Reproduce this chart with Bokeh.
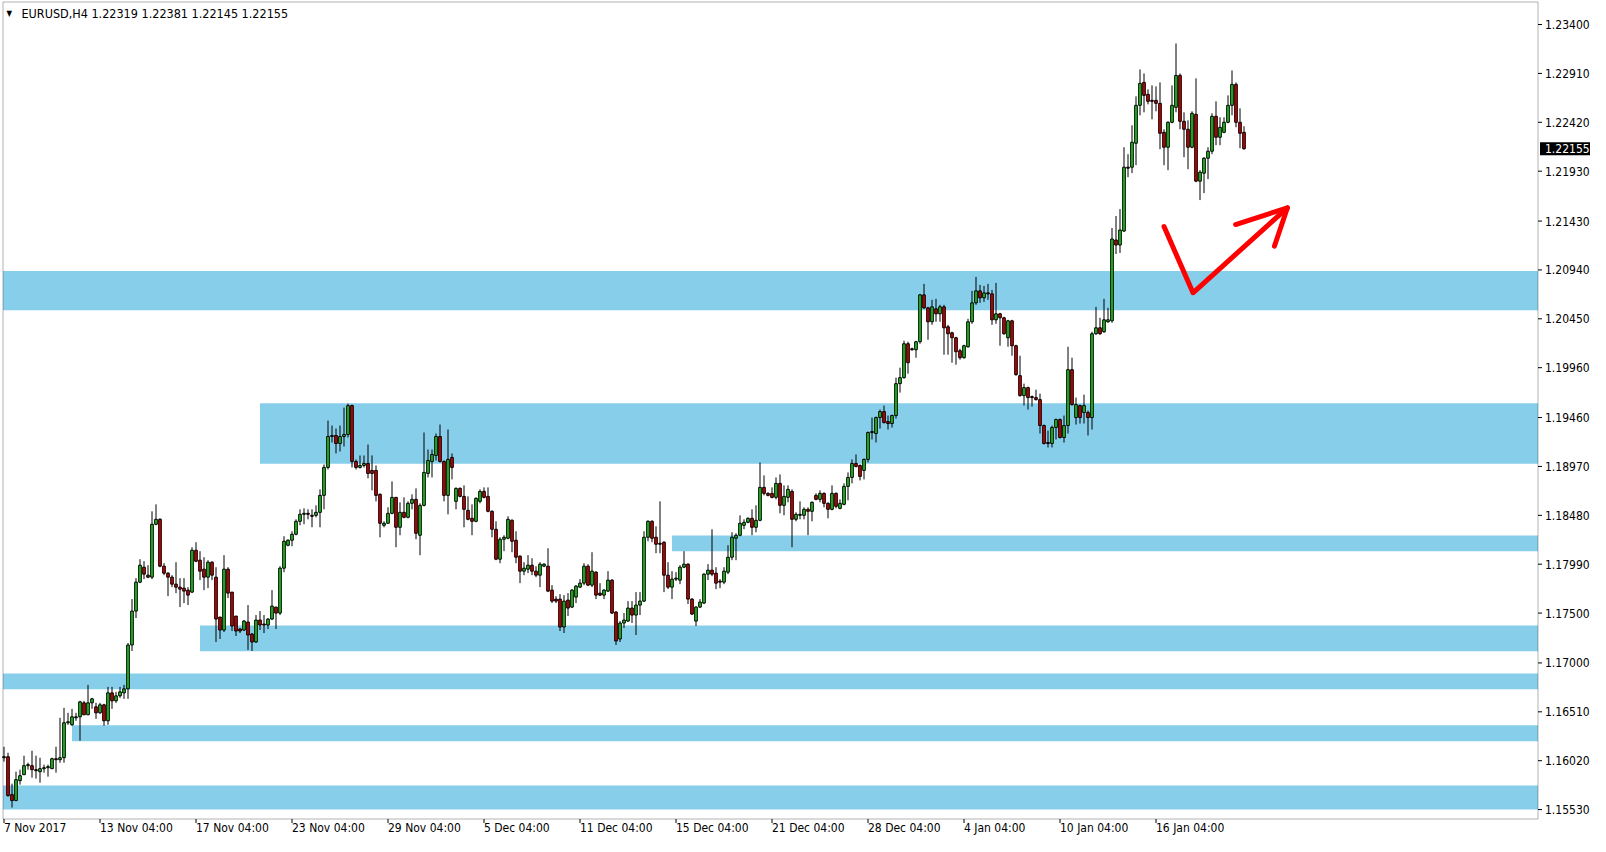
from bokeh.plotting import figure
from bokeh.models import Range1d, Label, ColumnDataSource, BoxAnnotation
from bokeh.core.properties import value
from bokeh.embed import file_html
from bokeh.resources import INLINE

symbol = "EURUSD,H4"

opens = [
    1.1606, 1.1606, 1.1568, 1.1562, 1.1582, 1.1588, 1.1597, 1.1597, 1.1593, 1.1591,
    1.1594, 1.1595, 1.1594, 1.1604, 1.1603, 1.1605, 1.1640, 1.1638, 1.1645, 1.1646,
    1.1660, 1.1648, 1.1660, 1.1656, 1.1650, 1.1658, 1.1642, 1.1670, 1.1662, 1.1667,
    1.1670, 1.1674, 1.1718, 1.1752, 1.1781, 1.1796, 1.1788, 1.1786, 1.1839, 1.1844,
    1.1797, 1.1790, 1.1786, 1.1779, 1.1776, 1.1775, 1.1773, 1.1771, 1.1813, 1.1803,
    1.1794, 1.1786, 1.1801, 1.1786, 1.1746, 1.1733, 1.1794, 1.1771, 1.1747, 1.1734,
    1.1733, 1.1741, 1.1729, 1.1721, 1.1743, 1.1739, 1.1738, 1.1744, 1.1756, 1.1750,
    1.1795, 1.1818, 1.1823, 1.1829, 1.1842, 1.1849, 1.1850, 1.1848, 1.1848, 1.1851,
    1.1868, 1.1896, 1.1927, 1.1928, 1.1920, 1.1927, 1.1929, 1.1958, 1.1902, 1.1896,
    1.1898, 1.1900, 1.1893, 1.1893, 1.1869, 1.1838, 1.1840, 1.1850, 1.1866, 1.1836,
    1.1851, 1.1846, 1.1860, 1.1864, 1.1828, 1.1858, 1.1890, 1.1902, 1.1908, 1.1927,
    1.1902, 1.1868, 1.1906, 1.1862, 1.1875, 1.1867, 1.1853, 1.1845, 1.1842, 1.1862,
    1.1872, 1.1867, 1.1852, 1.1834, 1.1804, 1.1824, 1.1825, 1.1843, 1.1823, 1.1807,
    1.1792, 1.1794, 1.1798, 1.1792, 1.1788, 1.1797, 1.1797, 1.1773, 1.1764, 1.1764,
    1.1736, 1.1763, 1.1756, 1.1766, 1.1776, 1.1780, 1.1797, 1.1778, 1.1791, 1.1770,
    1.1768, 1.1772, 1.1783, 1.1751, 1.1724, 1.1740, 1.1742, 1.1755, 1.1748, 1.1758,
    1.1762, 1.1826, 1.1842, 1.1826, 1.1820, 1.1821, 1.1788, 1.1776, 1.1784, 1.1783,
    1.1796, 1.1799, 1.1764, 1.1742, 1.1756, 1.1760, 1.1789, 1.1793, 1.1790, 1.1782,
    1.1781, 1.1791, 1.1806, 1.1825, 1.1828, 1.1838, 1.1841, 1.1845, 1.1836, 1.1843,
    1.1876, 1.1870, 1.1870, 1.1866, 1.1880, 1.1858, 1.1866, 1.1872, 1.1844, 1.1848,
    1.1848, 1.1854, 1.1852, 1.1868, 1.1864, 1.1870, 1.1860, 1.1854, 1.1870, 1.1855,
    1.1859, 1.1877, 1.1886, 1.1900, 1.1898, 1.1893, 1.1904, 1.1931, 1.1930, 1.1946,
    1.1952, 1.1942, 1.1940, 1.1948, 1.1980, 1.1986, 1.2020, 1.2015, 1.2014, 1.2022,
    1.2069, 1.2056, 1.2042, 1.2055, 1.2050, 1.2057, 1.2037, 1.2031, 1.2026, 1.2013,
    1.2006, 1.2017, 1.2042, 1.2061, 1.2073, 1.2066, 1.2071, 1.2070, 1.2044, 1.2050,
    1.2046, 1.2026, 1.2043, 1.2018, 1.1988, 1.1968, 1.1976, 1.1967, 1.1966, 1.1964,
    1.1938, 1.1921, 1.1920, 1.1936, 1.1944, 1.1926, 1.1938, 1.1994, 1.1946, 1.1958,
    1.1951, 1.1951, 1.1946, 1.2030, 1.2036, 1.2032, 1.2042, 1.2043, 1.2124, 1.2119,
    1.2133, 1.2197, 1.2197, 1.2221, 1.2259, 1.2282, 1.2270, 1.2264, 1.2264, 1.2261,
    1.2232, 1.2217, 1.2242, 1.2257, 1.2289, 1.2243, 1.2235, 1.2217, 1.2250, 1.2183,
    1.2191, 1.2206, 1.2213, 1.2248, 1.2227, 1.2232, 1.2242, 1.2259, 1.2280, 1.2242,
    1.22319,
]

highs = [
    1.1616, 1.1610, 1.1579, 1.1591, 1.1593, 1.1607, 1.1600, 1.1612, 1.1607, 1.1605,
    1.1598, 1.1598, 1.1605, 1.1616, 1.1645, 1.1655, 1.1650, 1.1654, 1.1650, 1.1662,
    1.1662, 1.1678, 1.1665, 1.1660, 1.1660, 1.1659, 1.1676, 1.1676, 1.1671, 1.1676,
    1.1678, 1.1720, 1.1764, 1.1785, 1.1804, 1.1802, 1.1798, 1.1852, 1.1859, 1.1845,
    1.1800, 1.1791, 1.1788, 1.1801, 1.1785, 1.1785, 1.1776, 1.1816, 1.1821, 1.1812,
    1.1806, 1.1803, 1.1802, 1.1796, 1.1746, 1.1808, 1.1796, 1.1771, 1.1747, 1.1735,
    1.1743, 1.1758, 1.1730, 1.1748, 1.1752, 1.1748, 1.1745, 1.1773, 1.1756, 1.1797,
    1.1827, 1.1824, 1.1832, 1.1844, 1.1854, 1.1855, 1.1854, 1.1854, 1.1858, 1.1874,
    1.1899, 1.1943, 1.1938, 1.1935, 1.1938, 1.1956, 1.1960, 1.1959, 1.1904, 1.1908,
    1.1908, 1.1919, 1.1908, 1.1898, 1.1870, 1.1842, 1.1856, 1.1882, 1.1866, 1.1861,
    1.1866, 1.1862, 1.1869, 1.1875, 1.1860, 1.1931, 1.1914, 1.1914, 1.1930, 1.1939,
    1.1903, 1.1934, 1.1910, 1.1876, 1.1876, 1.1878, 1.1867, 1.1859, 1.1866, 1.1874,
    1.1876, 1.1876, 1.1853, 1.1842, 1.1826, 1.1828, 1.1847, 1.1844, 1.1832, 1.1808,
    1.1801, 1.1808, 1.1805, 1.1797, 1.1801, 1.1800, 1.1815, 1.1778, 1.1767, 1.1769,
    1.1768, 1.1770, 1.1774, 1.1778, 1.1784, 1.1800, 1.1799, 1.1811, 1.1792, 1.1780,
    1.1774, 1.1792, 1.1784, 1.1752, 1.1742, 1.1750, 1.1762, 1.1762, 1.1771, 1.1771,
    1.1832, 1.1843, 1.1843, 1.1837, 1.1862, 1.1822, 1.1801, 1.1792, 1.1791, 1.1798,
    1.1812, 1.1800, 1.1765, 1.1757, 1.1764, 1.1790, 1.1799, 1.1834, 1.1796, 1.1784,
    1.1796, 1.1818, 1.1831, 1.1830, 1.1848, 1.1844, 1.1846, 1.1854, 1.1858, 1.1901,
    1.1888, 1.1871, 1.1876, 1.1886, 1.1889, 1.1878, 1.1878, 1.1874, 1.1851, 1.1862,
    1.1856, 1.1856, 1.1862, 1.1870, 1.1873, 1.1871, 1.1861, 1.1878, 1.1871, 1.1864,
    1.1880, 1.1891, 1.1904, 1.1909, 1.1899, 1.1905, 1.1932, 1.1946, 1.1947, 1.1954,
    1.1958, 1.1948, 1.1949, 1.1986, 1.1996, 1.2023, 1.2022, 1.2016, 1.2023, 1.2070,
    1.2080, 1.2057, 1.2064, 1.2065, 1.2059, 1.2059, 1.2039, 1.2032, 1.2027, 1.2015,
    1.2019, 1.2045, 1.2073, 1.2087, 1.2079, 1.2078, 1.2080, 1.2074, 1.2081, 1.2051,
    1.2047, 1.2044, 1.2044, 1.2019, 1.2008, 1.1980, 1.1977, 1.1968, 1.1974, 1.1970,
    1.1939, 1.1933, 1.1938, 1.1945, 1.1945, 1.1948, 1.2017, 1.2006, 1.1966, 1.1959,
    1.1969, 1.1953, 1.2032, 1.2057, 1.2046, 1.2065, 1.2056, 1.2136, 1.2148, 1.2155,
    1.2217, 1.2210, 1.2239, 1.2268, 1.2295, 1.2291, 1.2275, 1.2279, 1.2278, 1.2282,
    1.2235, 1.2243, 1.2279, 1.2321, 1.2291, 1.2252, 1.2244, 1.2253, 1.2286, 1.2194,
    1.2207, 1.2217, 1.2251, 1.2263, 1.2247, 1.2247, 1.2269, 1.2294, 1.2282, 1.2256,
    1.22381,
]

lows = [
    1.1601, 1.1566, 1.1555, 1.1562, 1.1578, 1.1588, 1.1593, 1.1585, 1.1584, 1.1580,
    1.1590, 1.1586, 1.1594, 1.1590, 1.1600, 1.1600, 1.1638, 1.1637, 1.1642, 1.1622,
    1.1648, 1.1648, 1.1654, 1.1644, 1.1649, 1.1637, 1.1638, 1.1654, 1.1660, 1.1665,
    1.1664, 1.1664, 1.1712, 1.1745, 1.1780, 1.1784, 1.1785, 1.1784, 1.1838, 1.1796,
    1.1788, 1.1767, 1.1776, 1.1770, 1.1756, 1.1760, 1.1758, 1.1770, 1.1801, 1.1783,
    1.1773, 1.1775, 1.1783, 1.1721, 1.1724, 1.1731, 1.1765, 1.1732, 1.1727, 1.1730,
    1.1732, 1.1713, 1.1712, 1.1720, 1.1733, 1.1730, 1.1734, 1.1743, 1.1734, 1.1748,
    1.1791, 1.1817, 1.1817, 1.1828, 1.1838, 1.1839, 1.1844, 1.1836, 1.1846, 1.1836,
    1.1854, 1.1894, 1.1921, 1.1910, 1.1912, 1.1917, 1.1926, 1.1896, 1.1894, 1.1895,
    1.1896, 1.1885, 1.1873, 1.1862, 1.1826, 1.1836, 1.1840, 1.1849, 1.1816, 1.1828,
    1.1845, 1.1845, 1.1854, 1.1824, 1.1808, 1.1857, 1.1886, 1.1886, 1.1903, 1.1901,
    1.1862, 1.1849, 1.1884, 1.1854, 1.1866, 1.1836, 1.1843, 1.1828, 1.1841, 1.1860,
    1.1865, 1.1851, 1.1826, 1.1803, 1.1800, 1.1812, 1.1824, 1.1811, 1.1800, 1.1780,
    1.1788, 1.1790, 1.1788, 1.1786, 1.1776, 1.1796, 1.1771, 1.1760, 1.1760, 1.1732,
    1.1730, 1.1747, 1.1755, 1.1760, 1.1775, 1.1778, 1.1777, 1.1776, 1.1764, 1.1767,
    1.1764, 1.1771, 1.1749, 1.1718, 1.1721, 1.1735, 1.1741, 1.1740, 1.1728, 1.1748,
    1.1761, 1.1822, 1.1821, 1.1810, 1.1810, 1.1771, 1.1774, 1.1764, 1.1782, 1.1779,
    1.1795, 1.1759, 1.1748, 1.1737, 1.1755, 1.1759, 1.1783, 1.1787, 1.1774, 1.1775,
    1.1779, 1.1789, 1.1803, 1.1803, 1.1827, 1.1834, 1.1840, 1.1828, 1.1831, 1.1842,
    1.1868, 1.1867, 1.1865, 1.1864, 1.1850, 1.1848, 1.1861, 1.1816, 1.1842, 1.1844,
    1.1844, 1.1828, 1.1842, 1.1863, 1.1861, 1.1856, 1.1845, 1.1853, 1.1855, 1.1854,
    1.1858, 1.1863, 1.1880, 1.1896, 1.1883, 1.1884, 1.1901, 1.1924, 1.1921, 1.1935,
    1.1940, 1.1934, 1.1936, 1.1945, 1.1971, 1.1985, 1.1990, 1.2013, 1.2006, 1.2020,
    1.2055, 1.2024, 1.2039, 1.2042, 1.2042, 1.2009, 1.2009, 1.2001, 1.1999, 1.2004,
    1.2005, 1.2016, 1.2040, 1.2059, 1.2061, 1.2062, 1.2064, 1.2039, 1.2040, 1.2018,
    1.2029, 1.2017, 1.2008, 1.1988, 1.1967, 1.1958, 1.1954, 1.1957, 1.1963, 1.1930,
    1.1919, 1.1916, 1.1916, 1.1924, 1.1925, 1.1921, 1.1930, 1.1958, 1.1939, 1.1940,
    1.1940, 1.1928, 1.1934, 1.2029, 1.2029, 1.2031, 1.2041, 1.2041, 1.2110, 1.2111,
    1.2132, 1.2187, 1.2191, 1.2199, 1.2249, 1.2252, 1.2260, 1.2245, 1.2253, 1.2215,
    1.2199, 1.2194, 1.2241, 1.2252, 1.2235, 1.2207, 1.2195, 1.2216, 1.2182, 1.2164,
    1.2171, 1.2185, 1.2210, 1.2219, 1.2219, 1.2231, 1.2241, 1.2249, 1.2237, 1.2216,
    1.22145,
]

closes = [
    1.1605, 1.1567, 1.1562, 1.1583, 1.1587, 1.1597, 1.1598, 1.1593, 1.1592, 1.1594,
    1.1595, 1.1596, 1.1604, 1.1603, 1.1605, 1.1640, 1.1641, 1.1646, 1.1646, 1.1661,
    1.1648, 1.1660, 1.1664, 1.1650, 1.1658, 1.1642, 1.1670, 1.1662, 1.1667, 1.1671,
    1.1674, 1.1718, 1.1752, 1.1781, 1.1798, 1.1789, 1.1786, 1.1839, 1.1844, 1.1797,
    1.1790, 1.1786, 1.1779, 1.1776, 1.1774, 1.1772, 1.1768, 1.1813, 1.1802, 1.1792,
    1.1786, 1.1801, 1.1788, 1.1744, 1.1733, 1.1794, 1.1770, 1.1737, 1.1732, 1.1732,
    1.1742, 1.1728, 1.1721, 1.1743, 1.1738, 1.1738, 1.1744, 1.1757, 1.1750, 1.1795,
    1.1822, 1.1823, 1.1829, 1.1842, 1.1849, 1.1850, 1.1849, 1.1847, 1.1851, 1.1868,
    1.1896, 1.1927, 1.1928, 1.1920, 1.1927, 1.1929, 1.1958, 1.1902, 1.1896, 1.1898,
    1.1900, 1.1890, 1.1890, 1.1868, 1.1840, 1.1840, 1.1850, 1.1866, 1.1836, 1.1851,
    1.1846, 1.1860, 1.1864, 1.1830, 1.1858, 1.1891, 1.1903, 1.1909, 1.1927, 1.1902,
    1.1868, 1.1904, 1.1896, 1.1875, 1.1867, 1.1854, 1.1844, 1.1842, 1.1865, 1.1872,
    1.1866, 1.1852, 1.1834, 1.1804, 1.1824, 1.1826, 1.1844, 1.1822, 1.1806, 1.1792,
    1.1795, 1.1798, 1.1792, 1.1788, 1.1799, 1.1799, 1.1772, 1.1762, 1.1762, 1.1736,
    1.1762, 1.1755, 1.1773, 1.1777, 1.1780, 1.1797, 1.1778, 1.1792, 1.1768, 1.1768,
    1.1773, 1.1783, 1.1750, 1.1722, 1.1740, 1.1743, 1.1755, 1.1748, 1.1758, 1.1762,
    1.1826, 1.1842, 1.1825, 1.1819, 1.1819, 1.1788, 1.1776, 1.1784, 1.1785, 1.1796,
    1.1799, 1.1764, 1.1749, 1.1756, 1.1761, 1.1789, 1.1793, 1.1789, 1.1780, 1.1781,
    1.1792, 1.1806, 1.1826, 1.1828, 1.1840, 1.1841, 1.1845, 1.1836, 1.1843, 1.1876,
    1.1870, 1.1868, 1.1866, 1.1880, 1.1858, 1.1867, 1.1874, 1.1844, 1.1849, 1.1849,
    1.1854, 1.1852, 1.1861, 1.1864, 1.1870, 1.1860, 1.1854, 1.1870, 1.1857, 1.1860,
    1.1877, 1.1886, 1.1900, 1.1897, 1.1887, 1.1904, 1.1931, 1.1932, 1.1946, 1.1952,
    1.1941, 1.1940, 1.1948, 1.1980, 1.1986, 1.2020, 1.2001, 1.2014, 1.2022, 1.2069,
    1.2056, 1.2042, 1.2057, 1.2050, 1.2057, 1.2036, 1.2030, 1.2026, 1.2012, 1.2006,
    1.2018, 1.2042, 1.2061, 1.2073, 1.2066, 1.2071, 1.2070, 1.2044, 1.2050, 1.2046,
    1.2030, 1.2043, 1.2018, 1.1989, 1.1968, 1.1976, 1.1966, 1.1966, 1.1964, 1.1938,
    1.1920, 1.1920, 1.1936, 1.1944, 1.1926, 1.1938, 1.1994, 1.1959, 1.1959, 1.1946,
    1.1958, 1.1946, 1.2030, 1.2036, 1.2030, 1.2044, 1.2044, 1.2125, 1.2119, 1.2134,
    1.2197, 1.2196, 1.2222, 1.2259, 1.2281, 1.2269, 1.2263, 1.2263, 1.2261, 1.2231,
    1.2217, 1.2242, 1.2259, 1.2289, 1.2243, 1.2235, 1.2217, 1.2251, 1.2183, 1.2192,
    1.2206, 1.2213, 1.2248, 1.2227, 1.2237, 1.2242, 1.2259, 1.2280, 1.2242, 1.2231,
    1.22155,
]

x_tick_bars = [0, 24, 48, 72, 96, 120, 144, 168, 192, 216, 240, 264, 288]
x_tick_labels = ["7 Nov 2017", "13 Nov 04:00", "17 Nov 04:00", "23 Nov 04:00",
                 "29 Nov 04:00", "5 Dec 04:00", "11 Dec 04:00", "15 Dec 04:00",
                 "21 Dec 04:00", "28 Dec 04:00", "4 Jan 04:00", "10 Jan 04:00",
                 "16 Jan 04:00"]
y_ticks = [1.23400, 1.22910, 1.22420, 1.21930, 1.21430, 1.20940, 1.20450, 1.19960,
           1.19460, 1.18970, 1.18480, 1.17990, 1.17500, 1.17000, 1.16510, 1.16020,
           1.15530]

# support / resistance zones (start bar, top price, bottom price); None = from chart start
zone_start = [None, 64, 167, 49, None, 17, None]
zone_top = [1.20929, 1.19604, 1.18277, 1.17375, 1.16894, 1.16376, 1.15771]
zone_bottom = [1.20536, 1.18996, 1.18120, 1.17117, 1.16736, 1.16215, 1.15530]

# hand-drawn red arrow (bar, price)
arrow_x = [290.0, 297.25, 320.85]
arrow_y = [1.21375, 1.20711, 1.21563]
head_x = [307.9, 320.85, 317.6]
head_y = [1.21395, 1.21563, 1.21178]

last_price = closes[-1]

# ---------------- layout (MT4 look: price scale right, time scale below) -------------
FONT = "DejaVu Sans Condensed, DejaVu Sans"
FIG_W, FIG_H = 1590, 836
PX_PER_BAR = 4.0                    # 4 px per H4 bar
PRICE_PER_PX = 0.00010025           # price-scale resolution
X_START = -0.875                    # bar at the left edge of the canvas
Y_TOP = 1.23641                     # price at the top edge of the canvas
MARG_L, MARG_T, MARG_R, MARG_B = 2.5, 1.5, 52.5, 17.5   # chart window inside the canvas

x_end = X_START + FIG_W / PX_PER_BAR
y_bottom = Y_TOP - FIG_H * PRICE_PER_PX
bar_left = X_START + MARG_L / PX_PER_BAR
bar_right = x_end - MARG_R / PX_PER_BAR
price_top = Y_TOP - MARG_T * PRICE_PER_PX
price_bottom = y_bottom + MARG_B * PRICE_PER_PX


def dx(px):
    return px / PX_PER_BAR


def dy(px):
    return px * PRICE_PER_PX


n = len(closes)
idx = list(range(n))
tops = [max(o, c) for o, c in zip(opens, closes)]
bottoms = [min(o, c) for o, c in zip(opens, closes)]
colors = ["#1ec81e" if c >= o else "#d20000" for o, c in zip(opens, closes)]
src = ColumnDataSource(dict(idx=idx, high=highs, low=lows, top=tops, bottom=bottoms, color=colors))

p = figure(width=FIG_W, height=FIG_H, output_backend="svg", toolbar_location=None,
           title=None, x_axis_type=None, y_axis_type=None,
           x_range=Range1d(X_START, x_end), y_range=Range1d(y_bottom, Y_TOP),
           min_border=0)
p.min_border_left = 0
p.min_border_right = 0
p.min_border_top = 0
p.min_border_bottom = 0
p.background_fill_color = "white"
p.border_fill_color = "white"
p.outline_line_color = None
p.grid.visible = False

# zones
zl = [bar_left if s is None else s for s in zone_start]
p.quad(left=zl, right=[bar_right] * len(zl), top=zone_top, bottom=zone_bottom,
       fill_color="#87CEEB", line_color=None)

# candles
p.segment(x0="idx", y0="low", x1="idx", y1="high", line_color="black", line_width=1, source=src)
p.vbar(x="idx", top="top", bottom="bottom", width=0.66, fill_color="color",
       line_color="black", line_width=1, source=src)

# arrow
p.line(arrow_x, arrow_y, line_color="#ff0000", line_width=5, line_join="round", line_cap="round")
p.line(head_x, head_y, line_color="#ff0000", line_width=5, line_join="round", line_cap="round")

# chart window border
p.add_layout(BoxAnnotation(left=bar_left, right=bar_right, top=price_top, bottom=price_bottom,
                           fill_alpha=0, line_color="black", line_width=1))

# price scale (right)
ny = len(y_ticks)
p.segment(x0=[bar_right] * ny, y0=y_ticks, x1=[bar_right + dx(4)] * ny, y1=y_ticks,
          line_color="black", line_width=1)
p.text(x=[bar_right + dx(7)] * ny, y=y_ticks, text=[f"{v:.5f}" for v in y_ticks],
       text_font=value(FONT), text_font_size="12px", text_color="black",
       text_align="left", text_baseline="middle")

# current price box
p.quad(left=[bar_right + dx(2)], right=[x_end + 1], top=[last_price + dy(6.5)],
       bottom=[last_price - dy(6.5)], fill_color="black", line_color=None)
p.text(x=[bar_right + dx(7)], y=[last_price], text=[f"{last_price:.5f}"],
       text_font=value(FONT), text_font_size="12px", text_color="white",
       text_align="left", text_baseline="middle")

# time scale (below)
nx = len(x_tick_bars)
p.segment(x0=x_tick_bars, y0=[price_bottom] * nx, x1=x_tick_bars, y1=[price_bottom - dy(4)] * nx,
          line_color="black", line_width=1)
p.text(x=x_tick_bars, y=[price_bottom - dy(2)] * nx, text=x_tick_labels,
       text_font=value(FONT), text_font_size="12px", text_color="black",
       text_align="left", text_baseline="top")

# header
p.add_layout(Label(x=6, y=FIG_H - 13, x_units="screen", y_units="screen", text="\u25bc",
                   text_font=FONT, text_font_size="8px", text_baseline="middle",
                   text_align="left", text_color="black"))
header = f"{symbol}  {opens[-1]:.5f} {highs[-1]:.5f} {lows[-1]:.5f} {closes[-1]:.5f}"
p.add_layout(Label(x=21, y=FIG_H - 13, x_units="screen", y_units="screen", text=header,
                   text_font=FONT, text_font_size="12.5px", text_baseline="middle",
                   text_align="left", text_color="black"))

open("out.html", "w").write(file_html(p, INLINE))
